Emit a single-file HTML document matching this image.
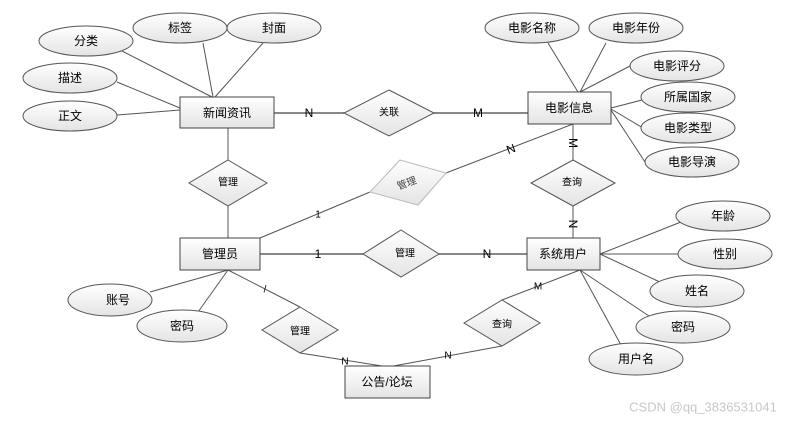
<!DOCTYPE html>
<html><head><meta charset="utf-8"><style>
body{margin:0;background:#fff}
text{font-family:"Liberation Sans","Noto Sans CJK SC",sans-serif;font-size:12px;fill:#000;text-anchor:middle;dominant-baseline:central}
.s{font-size:10px}
</style></head><body>
<svg width="797" height="421" viewBox="0 0 797 421" xmlns="http://www.w3.org/2000/svg">
<defs>
<linearGradient id="g" x1="0" y1="0" x2="0" y2="1"><stop offset="0" stop-color="#ffffff"/><stop offset="1" stop-color="#e4e4e4"/></linearGradient>
</defs>
<g stroke="#555" stroke-width="1" fill="none">
<!-- news attrs -->
<line x1="122" y1="51" x2="212" y2="97"/>
<line x1="203" y1="43" x2="213" y2="97"/>
<line x1="263" y1="43" x2="215" y2="97"/>
<line x1="117" y1="82" x2="180" y2="108"/>
<line x1="117" y1="115" x2="180" y2="110"/>
<!-- movie attrs -->
<line x1="548" y1="43" x2="578" y2="92"/>
<line x1="606" y1="43" x2="580" y2="92"/>
<line x1="630" y1="66" x2="580" y2="92"/>
<line x1="642" y1="100" x2="611" y2="108"/>
<line x1="643" y1="128" x2="611" y2="109"/>
<line x1="645" y1="162" x2="611" y2="110"/>
<!-- relations -->
<line x1="228" y1="128" x2="228" y2="160"/>
<line x1="228" y1="206" x2="228" y2="238"/>
<line x1="260" y1="238" x2="370" y2="192"/>
<line x1="446" y1="173" x2="573" y2="124"/>
<line x1="573" y1="124" x2="573" y2="160"/>
<line x1="573" y1="206" x2="573" y2="238"/>
<!-- admin attrs -->
<line x1="228" y1="270" x2="150" y2="292"/>
<line x1="228" y1="270" x2="198" y2="312"/>
<line x1="228" y1="270" x2="300" y2="307"/>
<line x1="300" y1="353" x2="388" y2="367"/>
<line x1="388" y1="367" x2="502" y2="346"/>
<line x1="502" y1="300" x2="580" y2="270"/>
<!-- user attrs -->
<line x1="600" y1="254" x2="686" y2="220"/>
<line x1="600" y1="254" x2="678" y2="254"/>
<line x1="600" y1="254" x2="662" y2="283"/>
<line x1="580" y1="270" x2="652" y2="318"/>
<line x1="580" y1="270" x2="621" y2="345"/>
</g>
<g stroke="#888" stroke-width="2">
<line x1="274" y1="113" x2="344" y2="113"/>
<line x1="434" y1="113" x2="528" y2="113"/>
<line x1="260" y1="254" x2="363" y2="254"/>
<line x1="439" y1="254" x2="527" y2="254"/>
</g>
<!-- ellipses -->
<g fill="url(#g)" stroke="#555">
<ellipse cx="86" cy="41" rx="47" ry="15"/>
<ellipse cx="180" cy="28" rx="47" ry="15"/>
<ellipse cx="274" cy="28" rx="47" ry="15"/>
<ellipse cx="70" cy="78" rx="47" ry="15"/>
<ellipse cx="70" cy="116" rx="47" ry="15"/>
<ellipse cx="532" cy="28" rx="47" ry="15"/>
<ellipse cx="636" cy="28" rx="47" ry="15"/>
<ellipse cx="677" cy="66" rx="47" ry="15"/>
<ellipse cx="688" cy="97" rx="47" ry="15"/>
<ellipse cx="688" cy="128" rx="47" ry="15"/>
<ellipse cx="692" cy="162" rx="47" ry="15"/>
<ellipse cx="723" cy="216" rx="47" ry="15"/>
<ellipse cx="725" cy="254" rx="47" ry="15"/>
<ellipse cx="697" cy="291" rx="47" ry="16"/>
<ellipse cx="683" cy="327" rx="47" ry="16"/>
<ellipse cx="636" cy="359" rx="47" ry="16"/>
<ellipse cx="110" cy="300" rx="42" ry="16"/>
<ellipse cx="182" cy="326" rx="45" ry="16"/>
</g>
<!-- rects -->
<g fill="url(#g)" stroke="#444">
<rect x="180" y="97" width="94" height="31"/>
<rect x="528" y="92" width="83" height="32"/>
<rect x="180" y="238" width="80" height="32"/>
<rect x="527" y="238" width="73" height="32"/>
<rect x="345" y="366" width="85" height="32"/>
</g>
<!-- diamonds -->
<g fill="url(#g)" stroke="#555">
<polygon points="389,90 434,113 389,136 344,113"/>
<polygon points="228,160 267,183 228,206 189,183"/>
<polygon points="573,160 615,183 573,206 531,183"/>
<polygon points="401,230 439,254 401,277 363,254"/>
<polygon points="300,307 338,330 300,353 262,330"/>
<polygon points="502,300 540,323 502,346 464,323"/>
<polygon points="400,160 446,173 418,205 370,192" stroke="#bbb"/>
</g>
<!-- labels -->
<text x="86" y="41">分类</text><text x="180" y="28">标签</text><text x="274" y="28">封面</text>
<text x="70" y="78">描述</text><text x="70" y="116">正文</text>
<text x="532" y="28">电影名称</text><text x="636" y="28">电影年份</text><text x="677" y="66">电影评分</text>
<text x="688" y="97">所属国家</text><text x="688" y="128">电影类型</text><text x="692" y="162">电影导演</text>
<text x="723" y="216">年龄</text><text x="725" y="254">性别</text><text x="697" y="291">姓名</text>
<text x="683" y="327">密码</text><text x="636" y="359">用户名</text>
<text x="118" y="300">账号</text><text x="182" y="326">密码</text>
<text x="227" y="113">新闻资讯</text><text x="569" y="108">电影信息</text>
<text x="220" y="254">管理员</text><text x="563" y="254">系统用户</text><text x="387" y="382">公告/论坛</text>
<g class="s">
<text x="389" y="113" class="s">关联</text><text x="228" y="183" class="s">管理</text>
<text x="572" y="183" class="s">查询</text><text x="405" y="254" class="s">管理</text>
<text x="300" y="332" class="s">管理</text><text x="502" y="325" class="s">查询</text>
<text x="407" y="184" class="s" transform="rotate(-20 407 184)" style="fill:#444">管理</text>
</g>
<text x="309" y="113">N</text><text x="478" y="113">M</text>
<text x="511" y="149" transform="rotate(-20 511 149)">N</text>
<text x="573" y="143" transform="rotate(90 573 143)">M</text>
<text x="573" y="224" transform="rotate(90 573 224)">N</text>
<text x="318" y="215" class="s">1</text>
<text x="318" y="254">1</text><text x="487" y="254">N</text>
<text x="265" y="290" class="s">/</text>
<text x="345" y="362" class="s">N</text><text x="448" y="356" class="s">N</text>
<text x="538" y="287" class="s">M</text>
<text x="703" y="407" style="fill:#c8c8c8;font-size:13px">CSDN @qq_3836531041</text>
</svg>
</body></html>
